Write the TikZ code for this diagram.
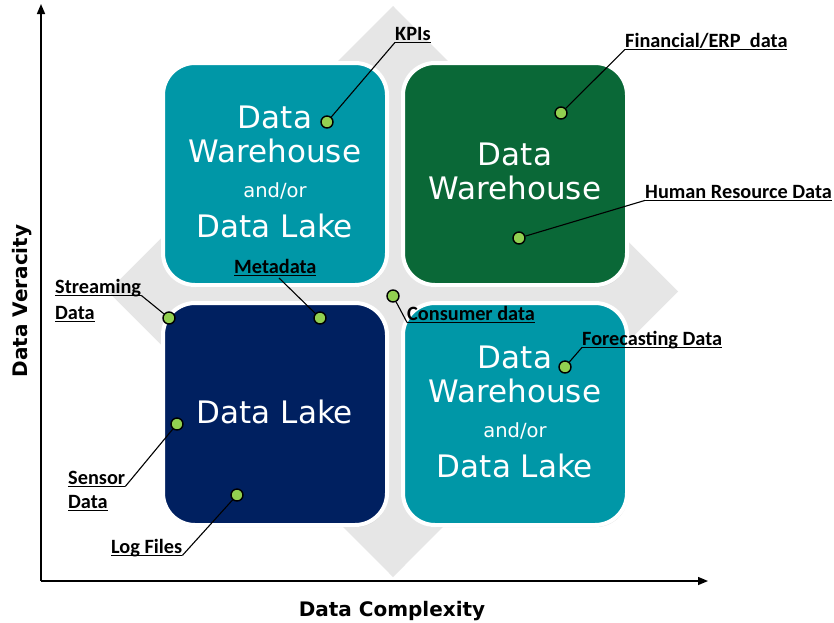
\documentclass[tikz,border=0pt]{standalone}
\usepackage{fontspec}
\newfontfamily\labfont{Carlito}
\newfontfamily\boxfont{DejaVu Sans}
\usetikzlibrary{arrows.meta,shadows,calc}
\definecolor{tealbox}{RGB}{0,151,167}
\definecolor{greenbox}{RGB}{10,104,55}
\definecolor{navybox}{RGB}{0,32,96}
\definecolor{diam}{RGB}{230,230,230}
\definecolor{dotgreen}{RGB}{146,208,80}
\newcommand\ulbar[1]{\setbox0\hbox{#1}\rlap{\rule[-3pt]{\wd0}{1.3pt}}\box0}
\begin{document}
\begin{tikzpicture}[x=1pt,y=-1pt,
  quad/.style={draw=white, line width=4pt, rounded corners=32pt,
    minimum width=224pt, minimum height=222pt, anchor=north west, inner sep=0,
    drop shadow={shadow xshift=1pt,shadow yshift=-2pt,opacity=.25}},
  big/.style={text=white, font=\boxfont\fontsize{31}{36}\selectfont, anchor=base, inner sep=0},
  small/.style={text=white, font=\boxfont\fontsize{19.5}{22}\selectfont, anchor=base, inner sep=0},
  lab/.style={font=\labfont\bfseries\fontsize{20.3}{24}\selectfont, inner sep=0, anchor=base west},
  dotn/.style={circle, draw=black, line width=1.4pt, fill=dotgreen, minimum size=12pt, inner sep=0},
  leader/.style={draw=black, line width=1.1pt},
  axis/.style={line width=1.5pt, -{Triangle[length=10pt,width=8pt]}},
  axlab/.style={font=\boxfont\bfseries\fontsize{20}{24}\selectfont, inner sep=0, anchor=base}
]
\useasboundingbox (0,0) rectangle (834,622);
\fill[white] (0,0) rectangle (834,622);

% diamond
\fill[diam] (393,6) -- (678,291.5) -- (393,577) -- (108,291.5) -- cycle;

% axes
\coordinate (o) at (41,581);
\coordinate (ytop) at (41,4);
\coordinate (xend) at (708,581);
\draw[axis] (o) -- (ytop);
\draw[axis] (o) -- (xend);
\node[axlab, rotate=90] (vlab) at (27,301) {Data Veracity};
\node[axlab] (hlab) at (392,616) {Data Complexity};

% boxes
\node[quad, fill=tealbox] (tl) at (161,61) {};
\node[quad, fill=greenbox] (tr) at (401,61) {};
\node[quad, fill=navybox] (bl) at (161,301) {};
\node[quad, fill=tealbox] (br) at (401,301) {};

% box texts
\node[big] (tl1) at ($(tl.north)+(0,67)$) {Data};
\node[big] (tl2) at ($(tl.north)+(0,101)$) {Warehouse};
\node[small] (tl3) at ($(tl.north)+(0,136)$) {and/or};
\node[big] (tl4) at ($(tl.north)+(0,176)$) {Data Lake};

\node[big] (tr1) at ($(tr.north)+(0,104)$) {Data};
\node[big] (tr2) at ($(tr.north)+(0,138)$) {Warehouse};

\node[big] (bl1) at ($(bl.north)+(0,122)$) {Data Lake};

\node[big] (br1) at ($(br.north)+(0,67)$) {Data};
\node[big] (br2) at ($(br.north)+(0,101)$) {Warehouse};
\node[small] (br3) at ($(br.north)+(0,136)$) {and/or};
\node[big] (br4) at ($(br.north)+(0,176)$) {Data Lake};

% labels
\node[lab] (kpi) at (395,40) {\ulbar{KPIs}};
\node[lab] (fin) at (625,47) {\ulbar{Financial/ERP\ \ data}};
\node[lab] (hr) at (645,198) {\ulbar{Human Resource Data}};
\node[lab] (meta) at (234,273) {\ulbar{Metadata}};
\node[lab] (stream) at (55,293) {\ulbar{Streaming}};
\node[lab] (stream2) at (55,319) {\ulbar{Data}};
\node[lab] (cons) at (407,320) {\ulbar{Consumer data}};
\node[lab] (fore) at (582,345) {\ulbar{Forecasting Data}};
\node[lab] (sens) at (68,484) {\ulbar{Sensor}};
\node[lab] (sens2) at (68,508) {\ulbar{Data}};
\node[lab] (logf) at (111,553) {\ulbar{Log Files}};

% dots
\node[dotn] (dkpi) at (327,122) {};
\node[dotn] (dfin) at (561,113) {};
\node[dotn] (dhr) at (519,238) {};
\node[dotn] (dmeta) at (320,318) {};
\node[dotn] (dstream) at (169,318) {};
\node[dotn] (dcons) at (393,296) {};
\node[dotn] (dfore) at (565,367) {};
\node[dotn] (dsens) at (177,424) {};
\node[dotn] (dlog) at (237,495) {};

% leaders
\draw[leader] (dkpi) -- ([yshift=-2.4pt]kpi.base west);
\draw[leader] (dfin) -- ([yshift=-2.4pt]fin.base west);
\draw[leader] (dhr) -- ([yshift=-2.4pt]hr.base west);
\draw[leader] (dmeta) -- ([xshift=45pt,yshift=-5pt]meta.base west);
\draw[leader] (dstream) -- ([yshift=-2.4pt]stream.base east);
\draw[leader] (dcons) -- ([yshift=-2.4pt]cons.base west);
\draw[leader] (dfore) -- ([yshift=-2.4pt]fore.base west);
\draw[leader] (dsens) -- ([yshift=-2.4pt]sens.base east);
\draw[leader] (dlog) -- ([yshift=-2.4pt]logf.base east);
\end{tikzpicture}
\end{document}
